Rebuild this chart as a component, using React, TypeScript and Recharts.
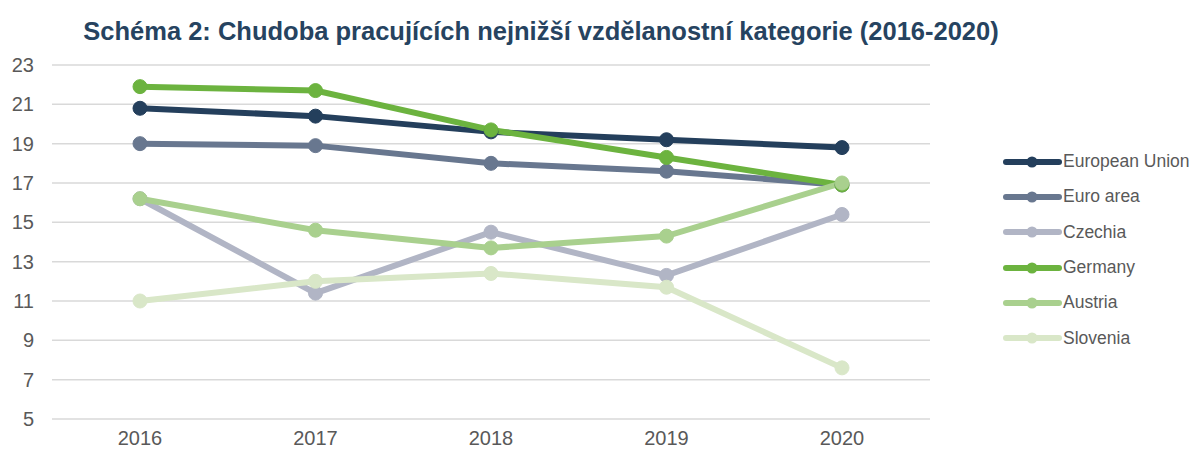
import React from "react";
import { LineChart, Line, XAxis, YAxis, CartesianGrid, Legend } from "recharts";

const years = ["2016", "2017", "2018", "2019", "2020"];
const europeanUnion = [20.8, 20.4, 19.6, 19.2, 18.8];
const euroArea = [19.0, 18.9, 18.0, 17.6, 16.9];
const czechia = [16.2, 11.4, 14.5, 12.3, 15.4];
const germany = [21.9, 21.7, 19.7, 18.3, 16.9];
const austria = [16.2, 14.6, 13.7, 14.3, 17.0];
const slovenia = [11.0, 12.0, 12.4, 11.7, 7.6];
const yTicks = [5, 7, 9, 11, 13, 15, 17, 19, 21, 23];

const series = [
  { key: "European Union", values: europeanUnion, color: "#243F5C" },
  { key: "Euro area", values: euroArea, color: "#68778F" },
  { key: "Czechia", values: czechia, color: "#B1B5C5" },
  { key: "Germany", values: germany, color: "#6CB33F" },
  { key: "Austria", values: austria, color: "#A9D08E" },
  { key: "Slovenia", values: slovenia, color: "#D9E7C8" },
];

const font = "Liberation Sans, Arial, sans-serif";

const data = years.map((year, i) => {
  const row: Record<string, string | number> = { year };
  series.forEach((s) => {
    row[s.key] = s.values[i];
  });
  return row;
});

const LegendBox = () => (
  <div style={{ fontFamily: font, fontSize: 17.5, color: "#595959", width: 195 }}>
    {series.map((s) => (
      <div key={s.key} style={{ display: "flex", alignItems: "center", height: 35.3, whiteSpace: "nowrap" }}>
        <svg width={60} height={14} style={{ marginRight: 1 }}>
          <line x1={4} y1={7} x2={57} y2={7} stroke={s.color} strokeWidth={6} strokeLinecap="round" />
          <circle cx={30} cy={7} r={5.5} fill={s.color} />
        </svg>
        <span>{s.key}</span>
      </div>
    ))}
  </div>
);

const App = () => {
  return (
    <div style={{ position: "absolute", left: 0, top: 0, width: 1198, height: 451, background: "#fff" }}>
      <div
        style={{
          position: "absolute",
          left: 0,
          top: 17,
          width: 1082,
          textAlign: "center",
          fontFamily: font,
          fontWeight: "bold",
          fontSize: 25.5,
          lineHeight: "28px",
          color: "#264360",
          whiteSpace: "nowrap",
        }}
      >
        Schéma 2: Chudoba pracujících nejnižší vzdělanostní kategorie (2016-2020)
      </div>
      <LineChart
        width={1198}
        height={451}
        data={data}
        margin={{ top: 65, right: 73, bottom: 2, left: 0 }}
      >
        <CartesianGrid vertical={false} stroke="#D9D9D9" strokeWidth={1.5} />
        <XAxis
          dataKey="year"
          axisLine={false}
          tickLine={false}
          padding={{ left: 88, right: 88 }}
          height={30}
          tickMargin={6}
          tick={{ fill: "#595959", fontSize: 20, fontFamily: font }}
        />
        <YAxis
          domain={[5, 23]}
          ticks={yTicks}
          width={52}
          axisLine={false}
          tickLine={false}
          tickMargin={12}
          interval={0}
          tick={{ fill: "#595959", fontSize: 20, fontFamily: font }}
        />
        <Legend
          layout="vertical"
          align="right"
          verticalAlign="middle"
          content={<LegendBox />}
          wrapperStyle={{ position: "absolute", left: 1002, top: 144, width: 195 }}
        />
        {series.map((s) => (
          <Line
            key={s.key}
            dataKey={s.key}
            stroke={s.color}
            strokeWidth={6}
            dot={{ r: 7, fill: s.color, stroke: s.color, strokeWidth: 1 }}
            activeDot={false}
            isAnimationActive={false}
          />
        ))}
      </LineChart>
    </div>
  );
};

export default App;
